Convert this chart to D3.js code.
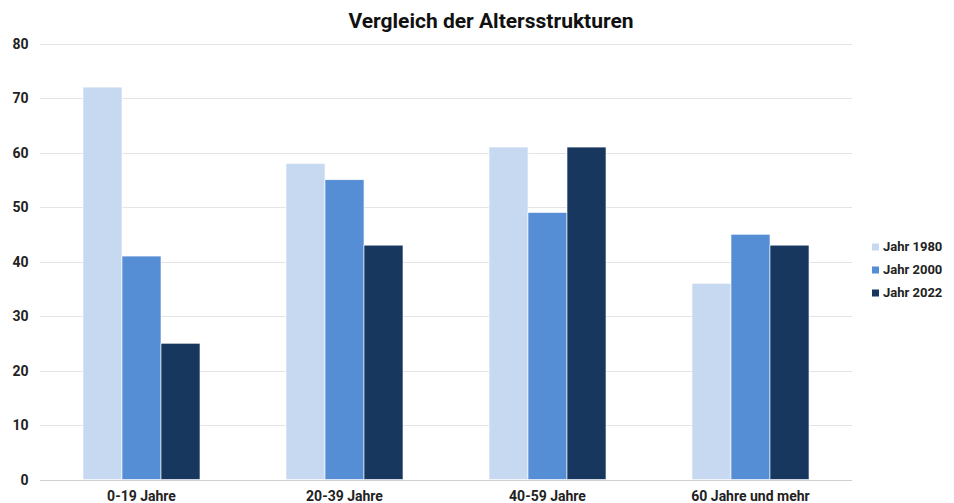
<!DOCTYPE html>
<html>
<head>
    <meta charset="UTF-8"/>
    <style>
        body {
            font-family: Roboto, Arial, Helvetica, sans-serif;
            margin: 0;
            background: #fff;
        }
    </style>
</head>
<body>
<script src="https://d3js.org/d3.v7.min.js"></script>
<div id="chart"></div>
<script>

    // data
    var categories = ["0-19 Jahre", "20-39 Jahre", "40-59 Jahre", "60 Jahre und mehr"];
    var seriesNames = ["Jahr 1980", "Jahr 2000", "Jahr 2022"];
    var values1980 = [72, 58, 61, 36];
    var values2000 = [41, 55, 49, 45];
    var values2022 = [25, 43, 61, 43];
    var yTicks = [0, 10, 20, 30, 40, 50, 60, 70, 80];

    var colors = ["#c6d9f1", "#558ed5", "#17375e"];
    var series = [values1980, values2000, values2022];

    var width = 954, height = 503;
    var margin = {top: 43.5, right: 102, bottom: 23.5, left: 40};

    var svg = d3.select("#chart")
        .append("svg")
        .attr("width", width)
        .attr("height", height);

    var x0 = d3.scaleBand()
        .domain(categories)
        .range([margin.left, width - margin.right])
        .paddingInner(0.4236)
        .paddingOuter(0.2118);

    var x1 = d3.scaleBand()
        .domain(seriesNames)
        .range([0, x0.bandwidth()]);

    var y = d3.scaleLinear()
        .domain([0, 80])
        .range([height - margin.bottom, margin.top]);

    // grid lines
    svg.append("g")
        .selectAll("line")
        .data(yTicks)
        .enter()
        .append("line")
        .attr("x1", margin.left)
        .attr("x2", width - margin.right)
        .attr("y1", function(d){ return Math.round(y(d)) + 0.5; })
        .attr("y2", function(d){ return Math.round(y(d)) + 0.5; })
        .attr("stroke", function(d){ return d === 0 ? "#cfcfcf" : "#e4e4e4"; })
        .attr("stroke-width", 1);

    // y tick labels
    svg.append("g")
        .selectAll("text")
        .data(yTicks)
        .enter()
        .append("text")
        .attr("x", 28.5)
        .attr("y", function(d){ return y(d) + 5; })
        .attr("text-anchor", "end")
        .attr("font-size", "14px")
        .attr("font-weight", "bold")
        .attr("fill", "#222")
        .text(function(d){ return d; });

    // bars
    var groups = svg.append("g")
        .selectAll("g")
        .data(categories)
        .enter()
        .append("g")
        .attr("transform", function(d){ return "translate(" + x0(d) + ",0)"; });

    groups.selectAll("rect")
        .data(function(d, i){
            return seriesNames.map(function(s, j){ return {name: s, value: series[j][i], idx: j}; });
        })
        .enter()
        .append("rect")
        .attr("x", function(d){ return x1(d.name); })
        .attr("y", function(d){ return y(d.value); })
        .attr("width", x1.bandwidth())
        .attr("height", function(d){ return y(0) - y(d.value); })
        .attr("fill", function(d){ return colors[d.idx]; })
        .attr("stroke", "#fff")
        .attr("stroke-width", 0.6);

    // x labels
    svg.append("g")
        .selectAll("text")
        .data(categories)
        .enter()
        .append("text")
        .attr("x", function(d){ return x0(d) + x0.bandwidth() / 2; })
        .attr("y", 501)
        .attr("text-anchor", "middle")
        .attr("font-size", "14px")
        .attr("font-weight", "bold")
        .attr("fill", "#222")
        .text(function(d){ return d; });

    // title
    svg.append("text")
        .attr("x", 491)
        .attr("y", 28)
        .attr("text-anchor", "middle")
        .attr("font-size", "21px")
        .attr("font-weight", "bold")
        .attr("fill", "#111")
        .text("Vergleich der Altersstrukturen");

    // legend
    var legend = svg.append("g")
        .selectAll("g")
        .data(seriesNames)
        .enter()
        .append("g")
        .attr("transform", function(d, i){ return "translate(872," + (251 + i * 23) + ")"; });

    legend.append("rect")
        .attr("x", 0)
        .attr("y", -7.5)
        .attr("width", 7)
        .attr("height", 7)
        .attr("fill", function(d, i){ return colors[i]; });

    legend.append("text")
        .attr("x", 11)
        .attr("y", 0)
        .attr("font-size", "13px")
        .attr("font-weight", "bold")
        .attr("fill", "#222")
        .text(function(d){ return d; });

</script>
</body>
</html>
